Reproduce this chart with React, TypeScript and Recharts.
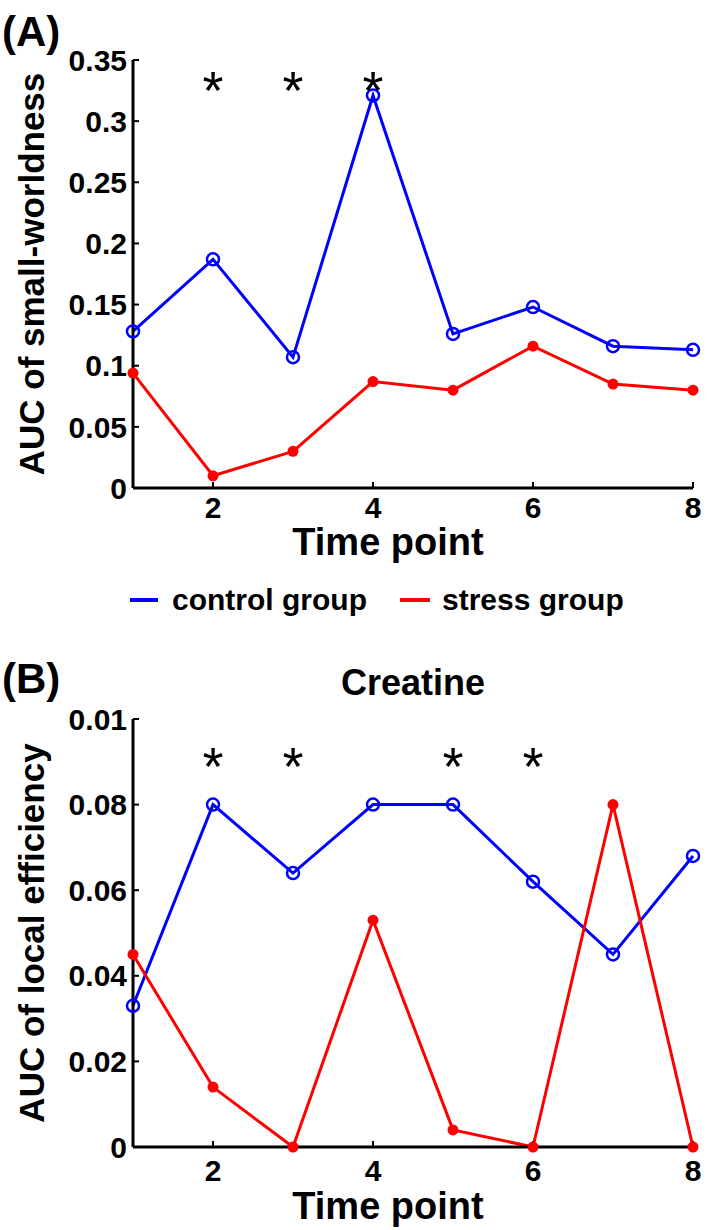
import React from 'react'
import { ComposedChart, Line, Scatter, XAxis, YAxis, Label } from 'recharts'

// time points
const timePoints = [1, 2, 3, 4, 5, 6, 7, 8]
const xTicks = [2, 4, 6, 8]

// (A) AUC of small-worldness
const controlA = [0.128, 0.187, 0.107, 0.321, 0.126, 0.148, 0.116, 0.113]
const stressA = [0.094, 0.01, 0.03, 0.087, 0.08, 0.116, 0.085, 0.08]
const starsA = [2, 3, 4]
const yTicksA = [0, 0.05, 0.1, 0.15, 0.2, 0.25, 0.3, 0.35]
const yLabelsA = ['0', '0.05', '0.1', '0.15', '0.2', '0.25', '0.3', '0.35']

// (B) Creatine, AUC of local efficiency
const controlB = [0.033, 0.08, 0.064, 0.08, 0.08, 0.062, 0.045, 0.068]
const stressB = [0.045, 0.014, 0, 0.053, 0.004, 0, 0.08, 0]
const starsB = [2, 3, 5, 6]
const yTicksB = [0, 0.02, 0.04, 0.06, 0.08, 0.1]
const yLabelsB = ['0', '0.02', '0.04', '0.06', '0.08', '0.01']

const FONT = '"Liberation Sans", Arial, sans-serif'
const BLUE = '#0000ff'
const RED = '#ff0000'

const axisLine = { stroke: '#000', strokeWidth: 3 }
const tickLine = { stroke: '#000', strokeWidth: 2 }
const tickFont = { fontSize: 30, fontWeight: 700, fill: '#000', fontFamily: FONT }

const makeRows = (control: number[], stress: number[]) =>
  timePoints.map((t, i) => ({ t, control: control[i], stress: stress[i] }))

const OpenCircle = (props: any) => {
  const { cx, cy } = props
  if (cx == null || cy == null) return null
  return <circle cx={cx} cy={cy} r={6} fill="none" stroke={BLUE} strokeWidth={2.5} />
}

const FilledDot = (props: any) => {
  const { cx, cy } = props
  if (cx == null || cy == null) return null
  return <circle cx={cx} cy={cy} r={5.5} fill={RED} stroke="none" />
}

const Star = (props: any) => (
  <text x={props.cx} y={props.cy + 31} textAnchor="middle" fontSize={54} fontFamily={FONT} fill="#000">
    *
  </text>
)

const YTitle = (text: string) => (props: any) => {
  const vb = props.viewBox
  const cy = vb.y + vb.height / 2
  return (
    <text
      transform={`translate(44, ${cy}) rotate(-90)`}
      textAnchor="middle"
      fontSize={35}
      fontWeight={700}
      fontFamily={FONT}
      fill="#000"
    >
      {text}
    </text>
  )
}

// the x title sits a little left of the plot centre in the original
const XTitle = (offset: number) => (props: any) => {
  const vb = props.viewBox
  return (
    <text x={388} y={vb.y + offset} textAnchor="middle" fontSize={38} fontWeight={700} fontFamily={FONT} fill="#000">
      Time point
    </text>
  )
}

interface PanelProps {
  control: number[]
  stress: number[]
  stars: number[]
  starY: number
  yTicks: number[]
  yLabels: string[]
  yMax: number
  yTitle: string
  height: number
  top: number
  tickGap: number
  titleOffset: number
}

function Panel(p: PanelProps) {
  const rows = makeRows(p.control, p.stress)
  const starRows = p.stars.map((t) => ({ t, v: p.starY }))
  return (
    <ComposedChart width={708} height={p.height} data={rows} margin={{ top: p.top, right: 15, left: 0, bottom: 0 }}>
      <XAxis
        xAxisId="b"
        dataKey="t"
        type="number"
        domain={[1, 8]}
        ticks={xTicks}
        axisLine={axisLine}
        tickLine={tickLine}
        tickSize={-6}
        tickMargin={p.tickGap}
        tick={tickFont}
        height={p.height - p.top - 428}
        label={<Label content={XTitle(p.titleOffset)} />}
      />
      <XAxis
        xAxisId="t"
        orientation="top"
        type="number"
        domain={[1, 8]}
        ticks={xTicks}
        axisLine={axisLine}
        tickLine={tickLine}
        tickSize={-6}
        tickFormatter={() => ''}
        height={0}
      />
      <YAxis
        yAxisId="l"
        type="number"
        domain={[0, p.yMax]}
        ticks={p.yTicks}
        interval={0}
        axisLine={axisLine}
        tickLine={tickLine}
        tickSize={-6}
        tickMargin={12}
        tick={tickFont}
        tickFormatter={(_v: number, i: number) => p.yLabels[i]}
        width={133}
        label={<Label content={YTitle(p.yTitle)} />}
      />
      <YAxis
        yAxisId="r"
        orientation="right"
        type="number"
        domain={[0, p.yMax]}
        ticks={p.yTicks}
        interval={0}
        axisLine={axisLine}
        tickLine={tickLine}
        tickSize={-6}
        tickFormatter={() => ''}
        width={0}
      />
      <Line
        xAxisId="b"
        yAxisId="l"
        dataKey="control"
        stroke={BLUE}
        strokeWidth={3}
        dot={<OpenCircle />}
        isAnimationActive={false}
      />
      <Line
        xAxisId="b"
        yAxisId="l"
        dataKey="stress"
        stroke={RED}
        strokeWidth={3}
        dot={<FilledDot />}
        isAnimationActive={false}
      />
      <Scatter
        xAxisId="b"
        yAxisId="l"
        data={starRows}
        dataKey="v"
        shape={<Star />}
        isAnimationActive={false}
      />
    </ComposedChart>
  )
}

export default function App() {
  const text = { fontFamily: FONT, fontWeight: 700, fill: '#000' }
  return (
    <div style={{ position: 'relative', width: 708, height: 1230, background: '#fff' }}>
      <style>{'body{margin:0}'}</style>
      <div style={{ position: 'absolute', left: 0, top: 0 }}>
        <Panel
          control={controlA}
          stress={stressA}
          stars={starsA}
          starY={0.335}
          yTicks={yTicksA}
          yLabels={yLabelsA}
          yMax={0.35}
          yTitle="AUC of small-worldness"
          height={580}
          top={60}
          tickGap={15}
          titleOffset={67}
        />
      </div>
      <div style={{ position: 'absolute', left: 0, top: 600 }}>
        <Panel
          control={controlB}
          stress={stressB}
          stars={starsB}
          starY={0.0918}
          yTicks={yTicksB}
          yLabels={yLabelsB}
          yMax={0.1}
          yTitle="AUC of local efficiency"
          height={630}
          top={119}
          tickGap={19}
          titleOffset={72}
        />
      </div>
      <svg width={708} height={1230} style={{ position: 'absolute', left: 0, top: 0, pointerEvents: 'none' }}>
        <text x={2} y={46} fontSize={42} {...text}>(A)</text>
        <text x={2} y={693} fontSize={42} {...text}>(B)</text>
        <text x={413} y={695} fontSize={36} textAnchor="middle" {...text}>Creatine</text>
        <line x1={130} x2={158} y1={600} y2={600} stroke={BLUE} strokeWidth={4} />
        <text x={172} y={610} fontSize={30} {...text}>control group</text>
        <line x1={400} x2={430} y1={600} y2={600} stroke={RED} strokeWidth={4} />
        <text x={442} y={610} fontSize={30} {...text}>stress group</text>
      </svg>
    </div>
  )
}
